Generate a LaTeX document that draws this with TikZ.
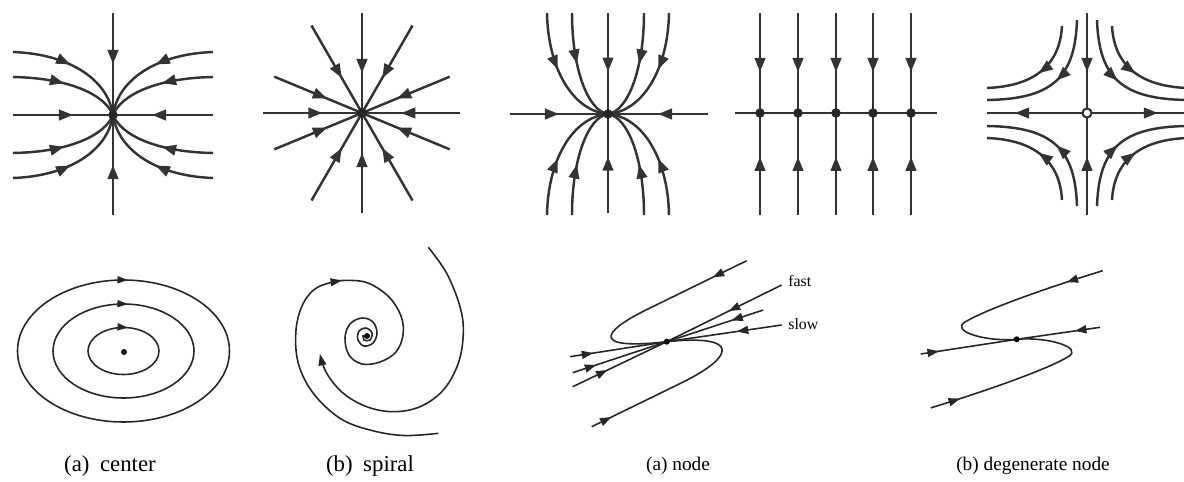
\documentclass[tikz,border=0pt]{standalone}
\usepackage{fontspec}
\setmainfont{Liberation Serif}
\usetikzlibrary{arrows.meta,decorations.markings}
\begin{document}
\begin{tikzpicture}[x=0.02cm,y=-0.02cm,
  toprow/.style={line width=1.4pt,draw=black!80},
  botrow/.style={line width=0.9pt,draw=black!85},
  tarr/.style={postaction={decorate,decoration={markings,mark=at position #1 with {\arrow{Triangle[length=8pt,width=6pt]}}}}},
  barr/.style={postaction={decorate,decoration={markings,mark=at position #1 with {\arrow{Triangle[length=6.5pt,width=4.6pt]}}}}},
  earr/.style={postaction={decorate,decoration={markings,mark=at position #1 with {\arrow{Triangle[length=6pt,width=4pt]}}}}},
  endarr/.style={-{Triangle[length=6.5pt,width=4.4pt]}},
  tdot/.style={circle,fill=black!85,inner sep=0pt,minimum size=0.19cm},
  odot/.style={circle,draw=black!80,line width=1.2pt,fill=white,inner sep=0pt,minimum size=0.18cm},
  bdot/.style={circle,fill=black,inner sep=0pt,minimum size=0.12cm},
  biglbl/.style={font=\fontsize{13}{15}\selectfont},
  lbl/.style={font=\fontsize{11}{13}\selectfont},
  tinylbl/.style={font=\fontsize{9}{11}\selectfont,anchor=west,inner sep=0pt}
]
\useasboundingbox (0,0) rectangle (1184,481);
\clip (0,0) rectangle (1184,481);

% ---------- Panel 1: star-like node with curved trajectories
\begin{scope}[shift={(113,115)}]
  \foreach \sx/\sy in {1/1,-1/1,1/-1,-1/-1}{
    \begin{scope}[xscale=\sx,yscale=\sy]
      \draw[toprow,tarr=0.46] (-100,-63) .. controls (-43,-61) and (-5,-35) .. (0,0);
      \draw[toprow,tarr=0.46] (-100,-38) .. controls (-43,-37) and (-8,-20) .. (0,0);
    \end{scope}}
  \draw[toprow,tarr=0.6] (-100,0) -- (0,0);
  \draw[toprow,tarr=0.61] (100,0) -- (0,0);
  \draw[toprow,tarr=0.5] (0,-102) -- (0,0);
  \draw[toprow,tarr=0.5] (0,100) -- (0,0);
  \node[tdot] (n1) at (0,0) {};
\end{scope}

% ---------- Panel 2: star
\begin{scope}[shift={(362,113)}]
  \foreach \a/\r in {0/98,22.5/95,60/101,90/100,120/101,157.5/95,180/99,202.5/95,240/101,270/100,300/101,337.5/95}{
    \draw[toprow,tarr=0.6] (\a:\r) -- (0,0);
  }
  \node[tdot] (n2) at (0,0) {};
\end{scope}

% ---------- Panel 3: node tangent to horizontal
\begin{scope}[shift={(608,114)}]
  \foreach \sx/\sy in {1/1,-1/1,1/-1,-1/-1}{
    \begin{scope}[xscale=\sx,yscale=\sy]
      \draw[toprow,tarr=0.45] (-61,-101) .. controls (-60,-45) and (-35,-3) .. (0,0);
      \draw[toprow,tarr=0.45] (-36,-101) .. controls (-36,-45) and (-20,-3) .. (0,0);
    \end{scope}}
  \draw[toprow,tarr=0.5] (-98,0) -- (0,0);
  \draw[toprow,tarr=0.5] (100,0) -- (0,0);
  \draw[toprow,tarr=0.58] (0,-101) -- (0,0);
  \draw[toprow,tarr=0.57] (0,99) -- (0,0);
  \node[tdot] (n3) at (0,0) {};
\end{scope}

% ---------- Panel 4: line of equilibria
\draw[toprow] (735,113) -- (937,113);
\foreach \x [count=\i] in {760,798,836,873,911}{
  \draw[toprow,tarr=0.59] (\x,13) -- (\x,113);
  \draw[toprow,tarr=0.57] (\x,215) -- (\x,113);
  \node[tdot] (m\i) at (\x,113) {};
}

% ---------- Panel 5: saddle
\begin{scope}[shift={(1087,113)}]
  \foreach \sx/\sy in {1/1,-1/1,1/-1,-1/-1}{
    \begin{scope}[xscale=\sx,yscale=\sy]
      \draw[toprow,tarr=0.5] (-25,-87) .. controls (-27,-50) and (-50,-27) .. (-100,-25);
      \draw[toprow,tarr=0.47] (-10,-93) .. controls (-12,-35) and (-35,-14) .. (-100,-13);
    \end{scope}}
  \draw[toprow,tarr=0.59] (0,-100) -- (0,0);
  \draw[toprow,tarr=0.57] (0,102) -- (0,0);
  \draw[toprow,tarr=0.72] (0,0) -- (-100,0);
  \draw[toprow,tarr=0.73] (0,0) -- (97,0);
  \node[odot] (n5) at (0,0) {};
\end{scope}

% ---------- Bottom: center
\draw[botrow,earr=0.758] (123.5,351) ellipse[x radius=106,y radius=71];
\draw[botrow,earr=0.762] (123.5,351) ellipse[x radius=70.5,y radius=47];
\draw[botrow,earr=0.774] (123.5,351) ellipse[x radius=35.5,y radius=23.5];
\node[bdot] (c0) at (124,352) {};
\node[biglbl] (la) at (110,466) {(a)\hspace{6pt}center};

% ---------- Bottom: spiral
\draw[botrow,endarr] plot[smooth,tension=0.6] coordinates {(428.3,247.3) (446.7,273.3) (460,306.7) (463.3,333.3) (458.3,363.3) (443.3,390) (420,406.7) (393.3,411.7) (366.7,406.7) (343.3,393.3) (326.7,373.3) (320,354)};
\draw[botrow,endarr] plot[smooth,tension=0.6] coordinates {(438.3,433.3) (403.3,435.5) (370,430) (340,418.3) (313.3,393.3) (298.3,363.3) (296,330) (303.3,303.3) (318,287) (342,280.5)};
\draw[botrow] plot[smooth,tension=0.6] coordinates {(338,280.7) (365,282) (388,296) (401,316) (403,335) (396,352) (380,362) (362,364) (349,355) (345,338) (350,324) (362,318) (373,322) (377,333) (373,343) (364,346) (358,340) (359,331) (366,328) (372,333) (370,340) (364,340) (363,335)};
\node[bdot] (s0) at (367,336) {};
\node[biglbl] (lb) at (370,466) {(b)\hspace{6pt}spiral};

% ---------- Bottom: node with fast and slow directions
\coordinate (D) at (666.7,341.7);
\coordinate (F1) at (572.7,386.7);
\coordinate (F2) at (781.7,285);
\coordinate (M1) at (572.7,372.7);
\coordinate (M2) at (763.3,310);
\coordinate (S1) at (570,356.7);
\coordinate (S2) at (781.7,325);
\coordinate (U) at (746.7,260.7);
\coordinate (L) at (591.7,426.7);
\draw[botrow,barr=0.37] (F1) -- (D);
\draw[botrow,barr=0.46] (F2) -- (D);
\draw[botrow,barr=0.25] (M1) -- (D);
\draw[botrow,barr=0.33] (M2) -- (D);
\draw[botrow,barr=0.24] (S1) -- (D);
\draw[botrow,barr=0.39] (S2) -- (D);
\draw[botrow,barr=21.5pt] (U) -- (650,308) .. controls (597,333.5) and (594,350) .. (D);
\draw[botrow,barr=12.5pt] (L) -- (682,382.6) .. controls (736,356) and (740,334) .. (D);
\node[bdot] (nd) at (D) {};
\node[tinylbl] (fast) at (788,281) {fast};
\node[tinylbl] (slow) at (788,324) {slow};
\node[lbl] (lc) at (678,466) {(a) node};

% ---------- Bottom: degenerate node
\coordinate (E) at (1016.7,339.3);
\coordinate (G1) at (920.7,354);
\coordinate (G2) at (1100,327.3);
\coordinate (V) at (1102.7,270.7);
\coordinate (W) at (930.7,407.9);
\draw[botrow,barr=0.19] (G1) -- (E);
\draw[botrow,barr=0.3] (G2) -- (E);
\draw[botrow,barr=21.5pt] (V) .. controls (1040,290) and (985,310) .. (965,322) .. controls (950,331) and (985,342) .. (E);
\draw[botrow,barr=17.5pt] (W) .. controls (993.4,388.6) and (1048.4,368.6) .. (1068.4,356.6) .. controls (1083.4,347.6) and (1048.4,336.6) .. (E);
\node[bdot] (ne) at (E) {};
\node[lbl] (ld) at (1033,466) {(b) degenerate node};
\end{tikzpicture}
\end{document}
